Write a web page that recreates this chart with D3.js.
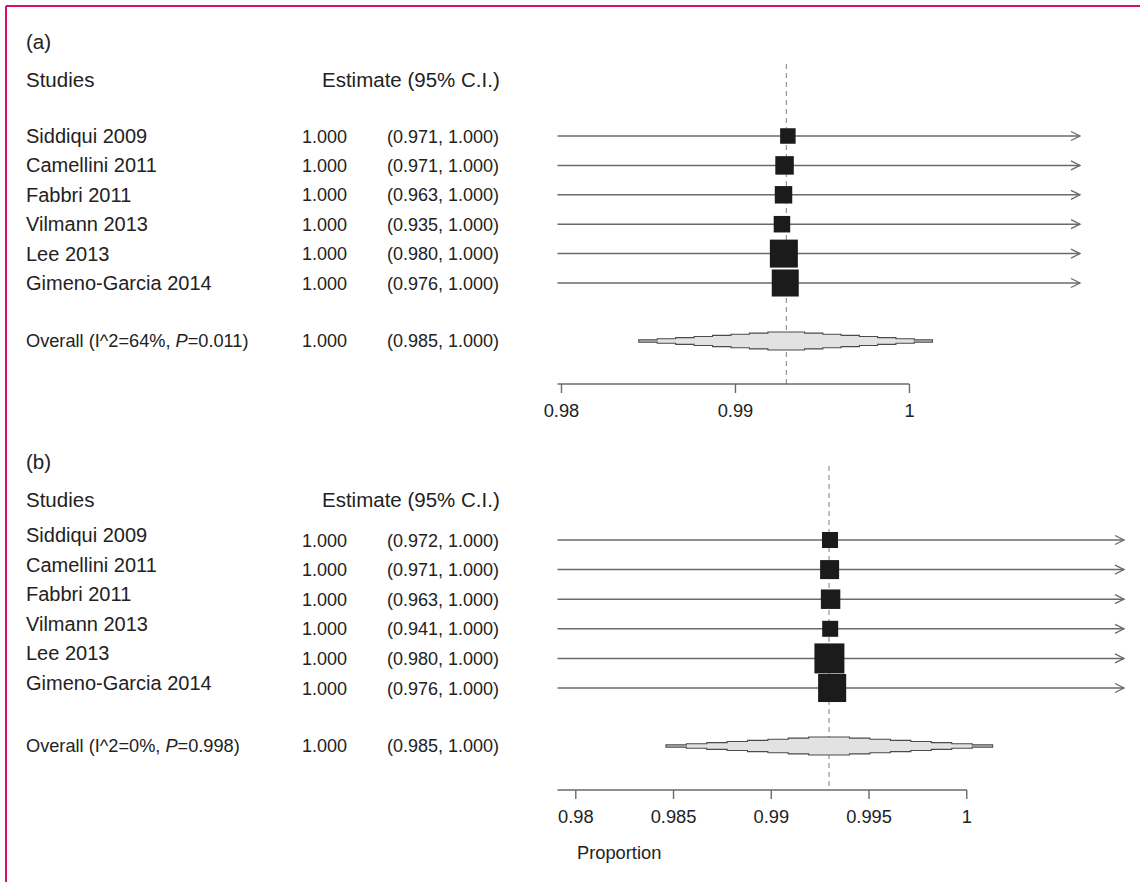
<!DOCTYPE html>
<html>
<head>
<meta charset="utf-8">
<script src="https://cdn.jsdelivr.net/npm/d3@7"></script>
<style>
  body { margin: 0; background: #fff; }
  svg { display: block; }
  text { font-family: "Liberation Sans", Arial, Helvetica, sans-serif; fill: #222; }
</style>
</head>
<body>
<svg id="chart" width="1140" height="882"></svg>
<script>
// ---- Study data -------------------------------------------------------
const studies = ["Siddiqui 2009", "Camellini 2011", "Fabbri 2011", "Vilmann 2013", "Lee 2013", "Gimeno-Garcia 2014"];
const estimateText = ["1.000", "1.000", "1.000", "1.000", "1.000", "1.000"];
const pooledText = ["1.000", "(0.985, 1.000)"];

// Panel (a)
const ciTextA = ["(0.971, 1.000)", "(0.971, 1.000)", "(0.963, 1.000)", "(0.935, 1.000)", "(0.980, 1.000)", "(0.976, 1.000)"];
const pointA = [0.99304, 0.99285, 0.99279, 0.99270, 0.99281, 0.99289];   // plotted estimate (analysis scale)
const lowerA = [0.9798, 0.9798, 0.9798, 0.9798, 0.9798, 0.9798];         // drawn lower end
const upperA = [1.02, 1.02, 1.02, 1.02, 1.02, 1.02];                     // beyond plot -> arrow
const weightA = [9.0, 12.8, 11.4, 10.2, 29.3, 27.3];                     // % weight
const pooledA = { est: 0.99295, lo: 0.98447, hi: 1.00135 };
const overallA = ["Overall (I^2=64%, ", "P", "=0.011)"];
const limitsA = [0.9798, 1.00983];
const axisSpanA = [0.9798, 1.00002];
const ticksA = [0.98, 0.99, 1];

// Panel (b)
const ciTextB = ["(0.972, 1.000)", "(0.971, 1.000)", "(0.963, 1.000)", "(0.941, 1.000)", "(0.980, 1.000)", "(0.976, 1.000)"];
const pointB = [0.99303, 0.99301, 0.99306, 0.99304, 0.99300, 0.99314];
const lowerB = [0.97909, 0.97909, 0.97909, 0.97909, 0.97909, 0.97909];
const upperB = [1.02, 1.02, 1.02, 1.02, 1.02, 1.02];
const weightB = [8.7, 12.3, 12.9, 8.7, 30.6, 26.8];
const pooledB = { est: 0.99298, lo: 0.98464, hi: 1.00135 };
const overallB = ["Overall (I^2=0%, ", "P", "=0.998)"];
const limitsB = [0.97909, 1.00807];
const axisSpanB = [0.97909, 1.00003];
const ticksB = [0.98, 0.985, 0.99, 0.995, 1];

// ---- Drawing ----------------------------------------------------------
const svg = d3.select("#chart");
const C = { line: "#6a6a6a", box: "#1b1b1b", dash: "#7d7d7d", diamondFill: "#e2e2e2", diamondStroke: "#4a4a4a" };
const F = { head: 20.5, name: 20, num: 18, overall: 18.2, tick: 18.3 };

// figure frame
svg.append("line").attr("x1", 6).attr("x2", 1140).attr("y1", 6).attr("y2", 6)
  .attr("stroke", "#dc0a6e").attr("stroke-width", 2);
svg.append("line").attr("x1", 6).attr("x2", 6).attr("y1", 6).attr("y2", 882)
  .attr("stroke", "#dc0a6e").attr("stroke-width", 2);

function panel(cfg) {
  const g = svg.append("g");
  const x = d3.scaleLinear().domain(cfg.limits).range([557.5, cfg.rightEdge]);
  const y = d3.scalePoint().domain(studies).range([cfg.firstRow, cfg.lastRow]);
  const side = d3.scaleSqrt().domain([0, 100]).range([0, cfg.boxMax]);

  // headings
  g.append("text").attr("x", 26).attr("y", cfg.top).attr("font-size", F.head).text(cfg.tag);
  g.append("text").attr("x", 26).attr("y", cfg.top + 38).attr("font-size", F.head).text("Studies");
  g.append("text").attr("x", 322).attr("y", cfg.top + 38).attr("font-size", F.head).text("Estimate (95% C.I.)");

  // study rows text
  const rows = g.selectAll("g.row").data(studies).join("g").attr("class", "row");
  rows.append("text").attr("x", 26).attr("y", d => y(d) + 7 - cfg.nameShift)
    .attr("font-size", F.name).text(d => d);
  rows.append("text").attr("x", 302).attr("y", d => y(d) + 6.5)
    .attr("font-size", F.num).text((d, i) => estimateText[i]);
  rows.append("text").attr("x", 387).attr("y", d => y(d) + 6.5)
    .attr("font-size", F.num).text((d, i) => cfg.ci[i]);

  // pooled row text
  const ov = g.append("text").attr("x", 26).attr("y", cfg.overallY + 6).attr("font-size", F.overall);
  ov.append("tspan").text(cfg.overall[0]);
  ov.append("tspan").attr("font-style", "italic").text(cfg.overall[1]);
  ov.append("tspan").text(cfg.overall[2]);
  g.append("text").attr("x", 302).attr("y", cfg.overallY + 6).attr("font-size", F.num).text(pooledText[0]);
  g.append("text").attr("x", 387).attr("y", cfg.overallY + 6).attr("font-size", F.num).text(pooledText[1]);

  // reference line at pooled estimate
  g.append("line").attr("x1", x(cfg.pooled.est)).attr("x2", x(cfg.pooled.est))
    .attr("y1", cfg.dashTop).attr("y2", cfg.axisY)
    .attr("stroke", C.dash).attr("stroke-width", 1).attr("stroke-dasharray", "5,4");

  // confidence intervals
  studies.forEach((s, i) => {
    const lo = Math.max(cfg.lower[i], cfg.limits[0]);
    const hi = Math.min(cfg.upper[i], cfg.limits[1]);
    g.append("line").attr("x1", x(lo)).attr("x2", x(hi)).attr("y1", y(s)).attr("y2", y(s))
      .attr("stroke", C.line).attr("stroke-width", 1.5);
    if (cfg.upper[i] > cfg.limits[1]) {
      const xe = x(cfg.limits[1]);
      g.append("polyline").attr("points", `${xe - 9},${y(s) - 4.5} ${xe},${y(s)} ${xe - 9},${y(s) + 4.5}`)
        .attr("fill", "none").attr("stroke", C.line).attr("stroke-width", 1.3);
    }
  });

  // weighted boxes
  g.selectAll("rect.box").data(studies).join("rect").attr("class", "box")
    .attr("x", (d, i) => x(cfg.point[i]) - side(cfg.weight[i]) / 2)
    .attr("y", (d, i) => y(d) - side(cfg.weight[i]) / 2)
    .attr("width", (d, i) => side(cfg.weight[i]))
    .attr("height", (d, i) => side(cfg.weight[i]))
    .attr("fill", C.box);

  // stepped summary diamond
  const K = 8, H = 9;
  const cx = x(cfg.pooled.est), cy = cfg.overallY;
  const wl = cx - x(cfg.pooled.lo), wr = x(cfg.pooled.hi) - cx;
  const hk = k => H * (K - k) / K;
  const xl = k => cx - wl * (k + 1) / K;
  const xr = k => cx + wr * (k + 1) / K;
  const top = [], bottom = [];
  for (let k = K - 1; k >= 0; k--) { top.push([xl(k), cy - hk(k)]); if (k > 0) top.push([xl(k - 1), cy - hk(k)]); }
  for (let k = 0; k < K; k++) { if (k > 0) top.push([xr(k - 1), cy - hk(k)]); top.push([xr(k), cy - hk(k)]); }
  top.forEach(p => bottom.push([p[0], 2 * cy - p[1]]));
  const poly = [[xl(K - 1), cy], ...top, [xr(K - 1), cy], ...bottom.reverse()];
  g.append("path").attr("d", "M" + poly.map(p => p.join(",")).join("L") + "Z")
    .attr("fill", C.diamondFill).attr("stroke", C.diamondStroke).attr("stroke-width", 1.1);

  // axis
  const axis = d3.axisBottom(x).tickValues(cfg.ticks).tickSize(9).tickSizeOuter(0)
    .tickFormat(d => String(d));
  const ag = g.append("g").attr("transform", `translate(0,${cfg.axisY})`).call(axis);
  ag.select(".domain").remove();
  ag.append("line").attr("x1", x(cfg.axisSpan[0])).attr("x2", x(cfg.axisSpan[1]))
    .attr("stroke", C.line).attr("stroke-width", 1.4);
  ag.selectAll(".tick line").attr("stroke", C.line).attr("stroke-width", 1.4);
  ag.selectAll(".tick text").attr("font-size", F.tick).attr("fill", "#222")
    .attr("font-family", "Liberation Sans, Arial, sans-serif").attr("y", 20).attr("dy", "0.71em");
  if (cfg.title) {
    g.append("text").attr("x", 577).attr("y", cfg.axisY + 69).attr("font-size", F.tick).text(cfg.title);
  }
}

panel({
  tag: "(a)", top: 49, firstRow: 136, lastRow: 283, nameShift: 0, overallY: 341,
  axisY: 384, dashTop: 64, rightEdge: 1080, limits: limitsA, axisSpan: axisSpanA, ticks: ticksA,
  ci: ciTextA, point: pointA, lower: lowerA, upper: upperA, weight: weightA, boxMax: 51.7,
  pooled: pooledA, overall: overallA
});
panel({
  tag: "(b)", top: 469, firstRow: 540, lastRow: 688, nameShift: 5, overallY: 746,
  axisY: 790, dashTop: 466, rightEdge: 1124, limits: limitsB, axisSpan: axisSpanB, ticks: ticksB,
  ci: ciTextB, point: pointB, lower: lowerB, upper: upperB, weight: weightB, boxMax: 54.2,
  pooled: pooledB, overall: overallB, title: "Proportion"
});
</script>
</body>
</html>
